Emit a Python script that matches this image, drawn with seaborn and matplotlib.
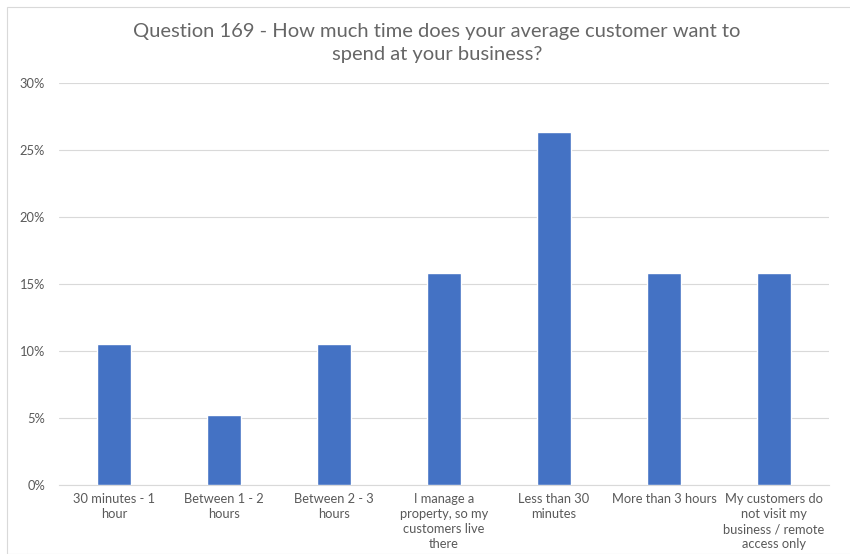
import matplotlib
matplotlib.use("Agg")
import matplotlib.pyplot as plt
import seaborn as sns
import pandas as pd
from matplotlib.patches import Rectangle
from matplotlib.ticker import FuncFormatter, MultipleLocator

categories = [
    "30 minutes - 1\nhour",
    "Between 1 - 2\nhours",
    "Between 2 - 3\nhours",
    "I manage a\nproperty, so my\ncustomers live\nthere",
    "Less than 30\nminutes",
    "More than 3 hours",
    "My customers do\nnot visit my\nbusiness / remote\naccess only",
]
values = [10.53, 5.26, 10.53, 15.79, 26.32, 15.79, 15.79]

df = pd.DataFrame({"cat": categories, "val": values})

sns.set_theme(style="white")
plt.rcParams["font.family"] = ["Lato", "DejaVu Sans"]

W, H = 850, 554
fig = plt.figure(figsize=(W / 100, H / 100), dpi=100)
ax = fig.add_axes([59 / W, 1 - 485 / H, (829 - 59) / W, (485 - 83) / H])

sns.barplot(data=df, x="cat", y="val", color="#4472C4", width=0.31, ax=ax,
            saturation=1, zorder=3)

ax.set_ylim(0, 30)
ax.set_xlim(-0.5, 6.5)
ax.yaxis.set_major_locator(MultipleLocator(5))
ax.yaxis.set_major_formatter(FuncFormatter(lambda v, p: f"{int(v)}%"))
ax.grid(axis="y", color="#D9D9D9", linewidth=0.8, zorder=0)
for s in ["top", "right", "left"]:
    ax.spines[s].set_visible(False)
ax.spines["bottom"].set_color("#D9D9D9")
ax.spines["bottom"].set_linewidth(0.8)
ax.set_xlabel("")
ax.set_ylabel("")
ax.tick_params(axis="both", length=0, colors="#595959", labelsize=9.3)
ax.tick_params(axis="y", pad=10)
ax.tick_params(axis="x", pad=6)
for lbl in ax.get_xticklabels():
    lbl.set_linespacing(1.3)

fig.text(437 / W, 1 - 43 / H,
         "Question 169 - How much time does your average customer want to\nspend at your business?",
         ha="center", va="center", fontsize=14.5, color="#666666",
         fontweight="normal", linespacing=1.4)

fig.patches.append(Rectangle((7 / W, 0), 1, 1 - 7 / H, transform=fig.transFigure,
                             fill=False, edgecolor="#D9D9D9", linewidth=0.8))

fig.savefig("out.png", dpi=100)
